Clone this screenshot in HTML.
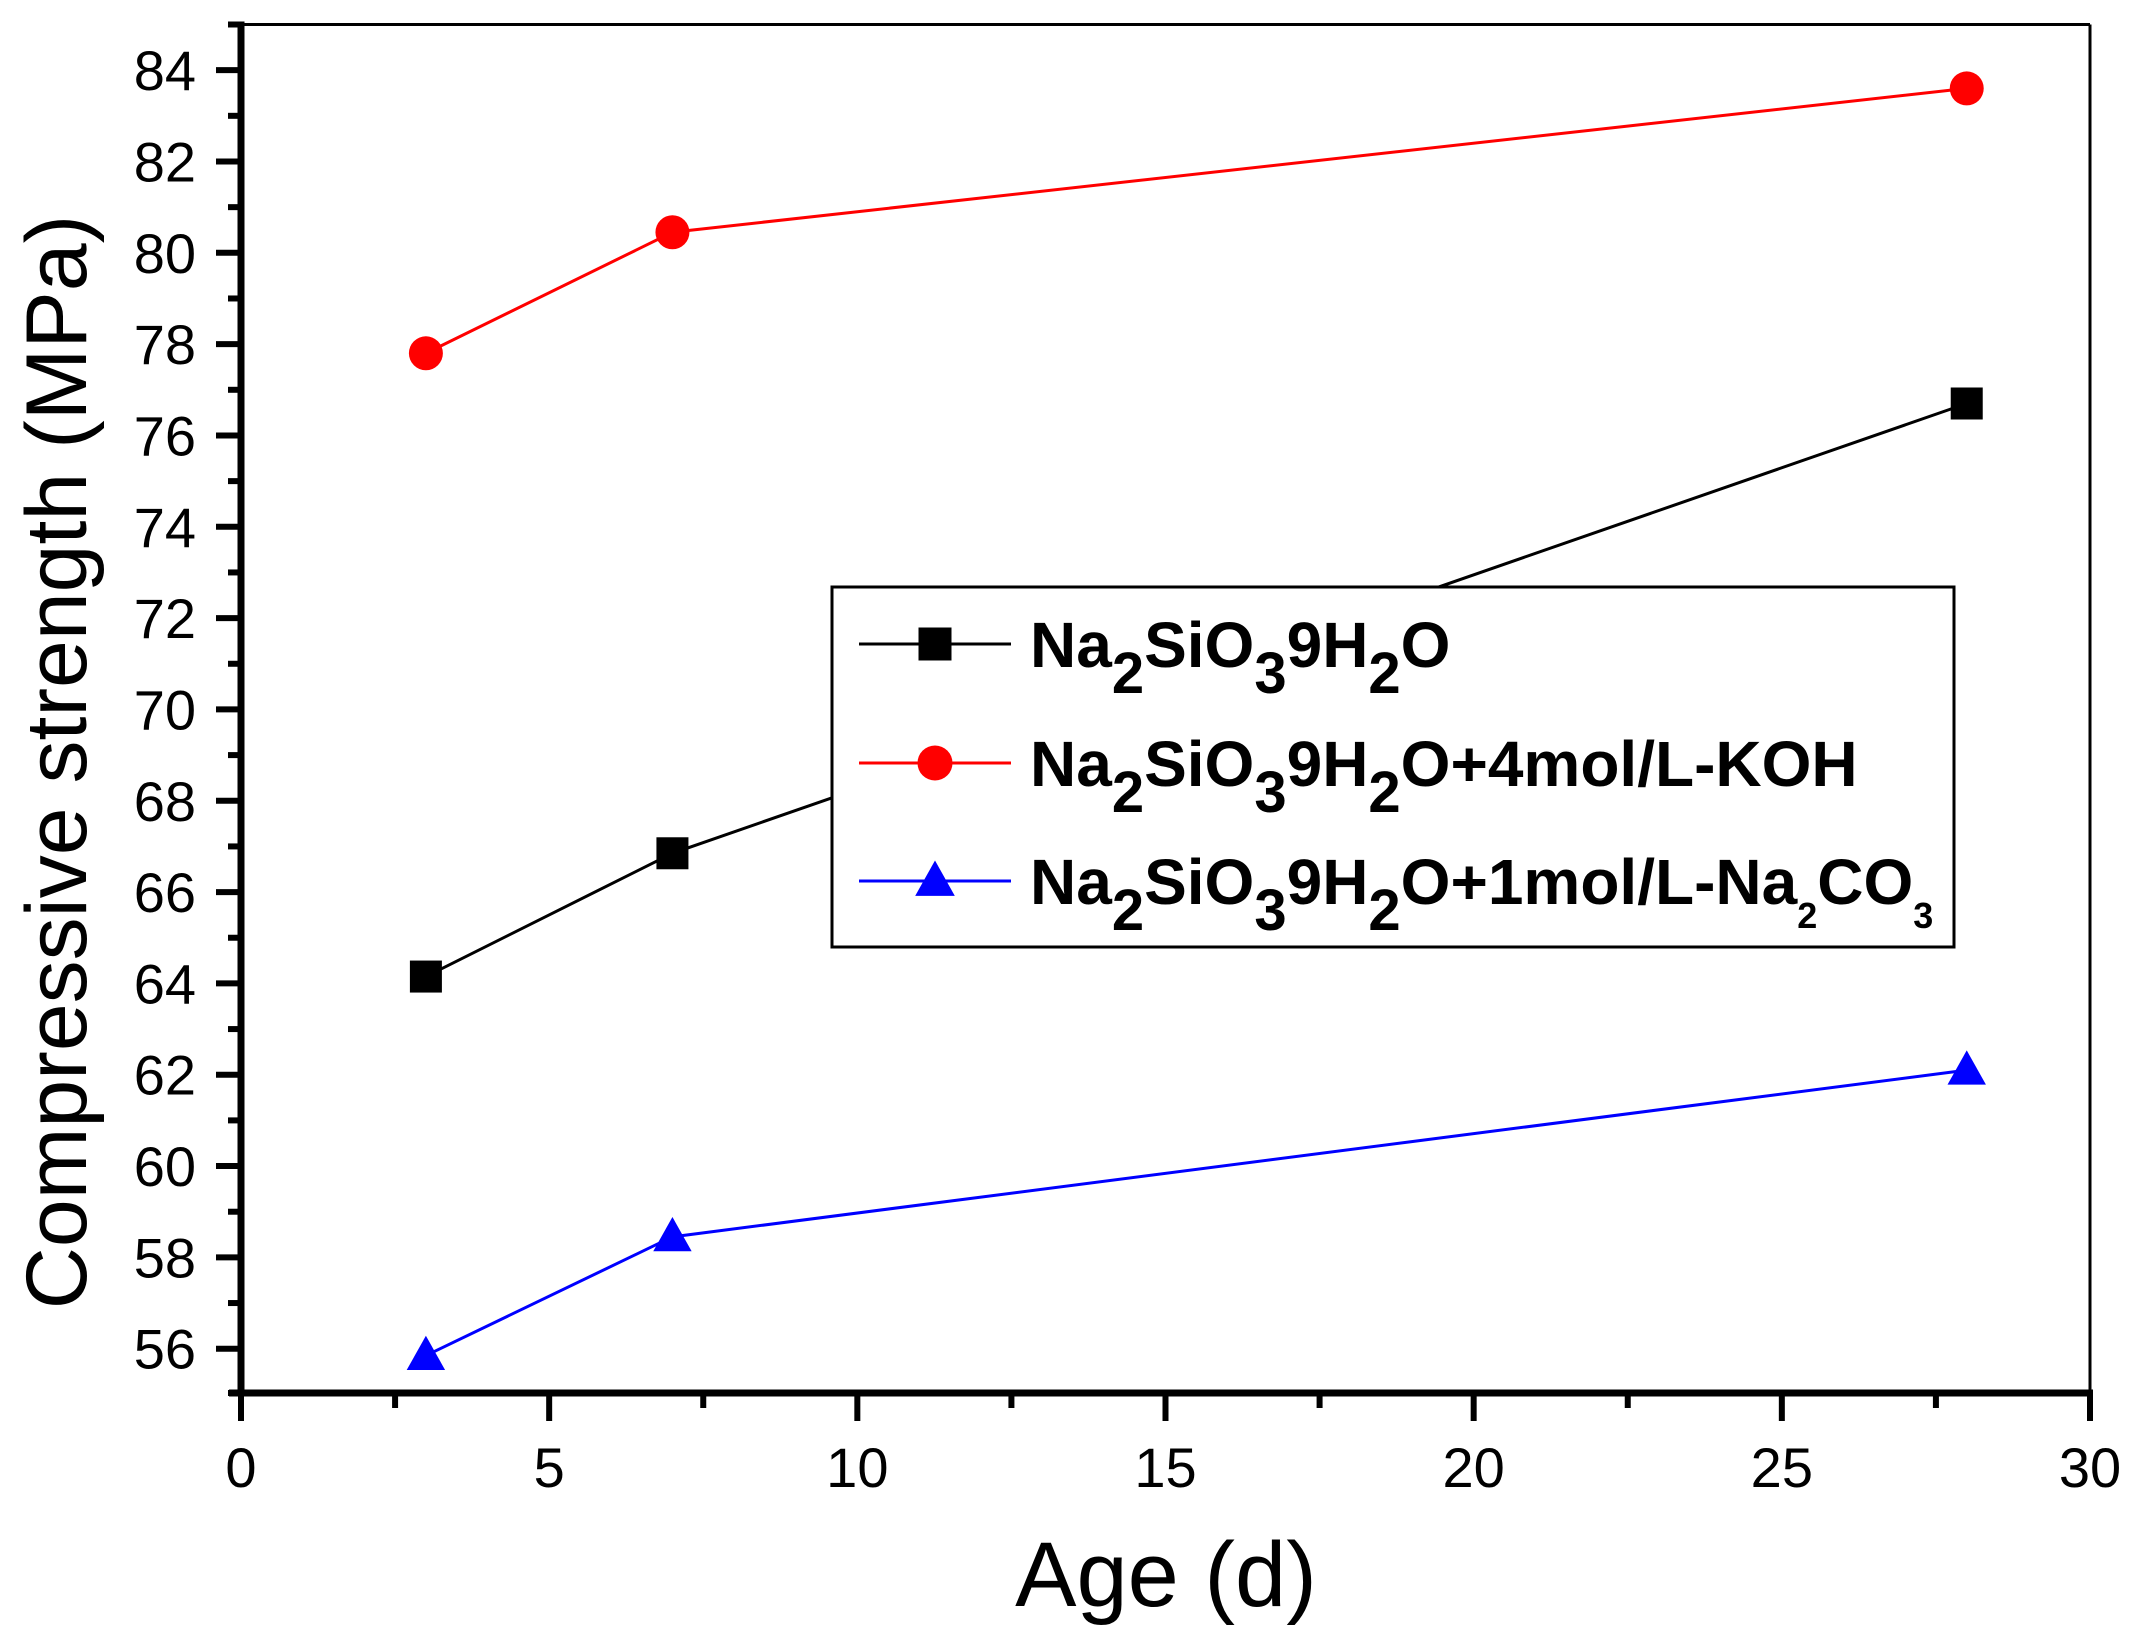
<!DOCTYPE html>
<html><head><meta charset="utf-8"><style>
html,body{margin:0;padding:0;background:#fff;}
svg{display:block;font-family:"Liberation Sans",Arial,sans-serif;}
</style></head><body>
<svg id="chart" width="2134" height="1637" viewBox="0 0 2134 1637" xmlns="http://www.w3.org/2000/svg">
<g id="plot"></g>
</svg>
<script>
const xVals = [3, 7, 28];
const seriesNames = ["Na2SiO39H2O", "Na2SiO39H2O+4mol/L-KOH", "Na2SiO39H2O+1mol/L-Na2CO3"];
const blackVals = [64.15, 66.85, 76.7];
const redVals = [77.8, 80.45, 83.6];
const blueVals = [55.85, 58.45, 62.1];
const xTicks = [0, 5, 10, 15, 20, 25, 30];
const yTicks = [56, 58, 60, 62, 64, 66, 68, 70, 72, 74, 76, 78, 80, 82, 84];

const L = 241, R = 2090, T = 24.5, B = 1393;
const xMin = 0, xMax = 30, yMin = 55.03, yMax = 85.0;
function sx(v){ return L + (v - xMin) / (xMax - xMin) * (R - L); }
function sy(v){ return B - (v - yMin) / (yMax - yMin) * (B - T); }

const NS = "http://www.w3.org/2000/svg";
const g = document.getElementById('plot');
function mk(tag, attrs, parent){
  const e = document.createElementNS(NS, tag);
  for (const k in attrs) e.setAttribute(k, attrs[k]);
  (parent || g).appendChild(e);
  return e;
}

let e;
e = mk('line', {x1:L, y1:T, x2:R, y2:T, stroke:'#000', 'stroke-width':3});


e = mk('line', {x1:R, y1:T, x2:R, y2:B, stroke:'#000', 'stroke-width':3});


e = mk('line', {x1:L, y1:T-3, x2:L, y2:B+3, stroke:'#000', 'stroke-width':7});


e = mk('line', {x1:L-12, y1:B, x2:R+3, y2:B, stroke:'#000', 'stroke-width':7});



for (let v = 56; v <= 85; v += 1) {
  const major = yTicks.indexOf(v) >= 0;
  const y = sy(v);
  e = mk('line', {x1:L - (major ? 25 : 13), y1:y, x2:L, y2:y, stroke:'#000', 'stroke-width':6});
  
  
}
e = mk('line', {x1:L - 13, y1:B, x2:L, y2:B, stroke:'#000', 'stroke-width':6});


yTicks.forEach(v => {
  const t = mk('text', {x:196, y:sy(v) + 20, 'text-anchor':'end', 'font-size':56});
  t.textContent = v;
  
  
});
for (let v = 0; v <= 30; v += 2.5) {
  const major = xTicks.indexOf(v) >= 0;
  const x = sx(v);
  e = mk('line', {x1:x, y1:B, x2:x, y2:B + (major ? 28 : 15), stroke:'#000', 'stroke-width':6});
  
  
}
xTicks.forEach(v => {
  const t = mk('text', {x:sx(v), y:1487, 'text-anchor':'middle', 'font-size':56});
  t.textContent = v;
  
  
});

e = mk('text', {x:1166, y:1606, 'text-anchor':'middle', 'font-size':92});
e.setAttribute('xml:space', 'preserve');
e.textContent = 'Age  (d)';


e = mk('text', {x:0, y:0, 'text-anchor':'middle', 'font-size':86, transform:'translate(86,762) rotate(-90)'});
e.textContent = 'Compressive strength (MPa)';



function marker(type, cx, cy, color, s, name, parent){
  let m;
  if (type === 'square') m = mk('rect', {x:cx - s/2, y:cy - s/2, width:s, height:s, fill:color}, parent);
  else if (type === 'circle') m = mk('circle', {cx:cx, cy:cy, r:s/2 + 1, fill:color}, parent);
  else m = mk('polygon', {points:(cx)+','+(cy - s*0.62)+' '+(cx - s*0.6)+','+(cy + s*0.45)+' '+(cx + s*0.6)+','+(cy + s*0.45), fill:color}, parent);
  
  
  return m;
}

const series = [
  {vals: blackVals, color:'#000', type:'square', key:'black'},
  {vals: redVals, color:'#ff0000', type:'circle', key:'red'},
  {vals: blueVals, color:'#0000ff', type:'triangle', key:'blue'}
];
series.forEach(s => {
  const pts = xVals.map((x, i) => sx(x) + ',' + sy(s.vals[i])).join(' ');
  const pl = mk('polyline', {points:pts, fill:'none', stroke:s.color, 'stroke-width':3});
  
  
  xVals.forEach((x, i) => {
    marker(s.type, sx(x), sy(s.vals[i]), s.color, 32, s.key + '-point');
  });
});

const lg = mk('g', {});


e = mk('rect', {x:832, y:587, width:1122, height:360, fill:'#fff', stroke:'#000', 'stroke-width':3}, lg);


const rowY = [644, 763, 881];
const labels = [
  [['Na',0],['2',1],['SiO',0],['3',1],['9H',0],['2',1],['O',0]],
  [['Na',0],['2',1],['SiO',0],['3',1],['9H',0],['2',1],['O+4mol/L-KOH',0]],
  [['Na',0],['2',1],['SiO',0],['3',1],['9H',0],['2',1],['O+1mol/L-Na',0],['2',2],['CO',0],['3',2]]
];
series.forEach((s, i) => {
  const y = rowY[i];
  e = mk('line', {x1:859, y1:y, x2:1011, y2:y, stroke:s.color, 'stroke-width':3}, lg);
  
  
  marker(s.type, 935, y, s.color, 33, 'legend-marker-' + s.key, lg);
  const t = mk('text', {x:1030, y:y + 23, 'font-size':64, 'font-weight':'bold'}, lg);
  
  
  labels[i].forEach(p => {
    const ts = document.createElementNS(NS, 'tspan');
    if (p[1] === 1) { ts.setAttribute('font-size', 58); ts.setAttribute('dy', 26); }
    else if (p[1] === 2) { ts.setAttribute('font-size', 36); ts.setAttribute('dy', 24); }
    ts.textContent = p[0];
    t.appendChild(ts);
  });
  const spans = t.querySelectorAll('tspan');
  for (let k = 1; k < spans.length; k++) {
    if (!spans[k].getAttribute('dy') && spans[k-1].getAttribute('dy')) {
      spans[k].setAttribute('dy', -parseFloat(spans[k-1].getAttribute('dy')));
    }
  }
});
</script>
</body></html>
